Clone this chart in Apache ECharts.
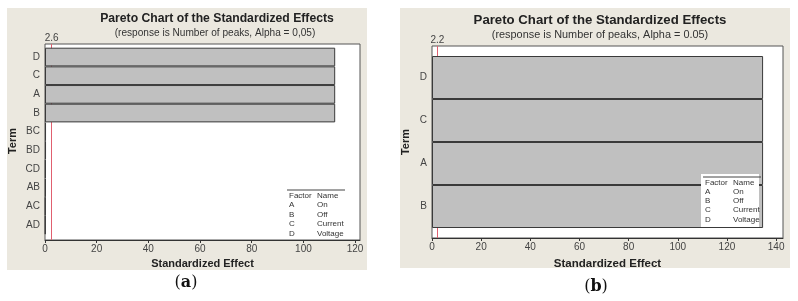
<!DOCTYPE html>
<html>
<head>
<meta charset="utf-8">
<script src="https://cdn.jsdelivr.net/npm/echarts@6/dist/echarts.min.js"></script>
<style>
  html, body { margin: 0; padding: 0; background: #fff; }
  #chart { width: 798px; height: 301px; }
</style>
</head>
<body>
<div id="chart"></div>
<script>
// panel (a): all terms
const termsA = ['D', 'C', 'A', 'B', 'BC', 'BD', 'CD', 'AB', 'AC', 'AD']
const effectsA = [112.3, 112.3, 112.3, 112.3, 0.4, 0.4, 0.3, 0.3, 0.2, 0.2]
const critA = 2.6
const xMaxA = 121.9
const subtitleA = '(response is Number of peaks, Alpha = 0,05)'

// panel (b): main effects only
const termsB = ['D', 'C', 'A', 'B']
const effectsB = [134.7, 134.7, 134.7, 134.7]
const critB = 2.2
const xMaxB = 142.8
const subtitleB = '(response is Number of peaks, Alpha = 0.05)'

const chartTitle = 'Pareto Chart of the Standardized Effects'
const factorLetters = ['A', 'B', 'C', 'D']
const factorNames = ['On', 'Off', 'Current', 'Voltage']

const SANS = '"Liberation Sans", Arial, sans-serif'
const SERIF = '"DejaVu Serif", "Liberation Serif", serif'
const BEIGE = '#ebe8df'

function factorTable(x, lineY, step, boxed) {
  const els = []
  if (boxed) {
    els.push({ type: 'rect', shape: { x: x - 4, y: lineY - 3, width: 58, height: 53 }, style: { fill: '#fff' }, z: 50 })
  }
  els.push({ type: 'line', shape: { x1: x - 2, y1: lineY, x2: x + 56, y2: lineY }, style: { stroke: '#444', lineWidth: 1 }, z: 51 })
  const rows = [['Factor', 'Name']].concat(factorLetters.map((f, i) => [f, factorNames[i]]))
  rows.forEach((r, i) => {
    const y = lineY + 5.5 + i * step
    els.push({ type: 'text', x: x, y: y, z: 52, style: { text: r[0], font: '8px ' + SANS, fill: '#333', verticalAlign: 'middle' } })
    els.push({ type: 'text', x: x + 28, y: y, z: 52, style: { text: r[1], font: '8px ' + SANS, fill: '#333', verticalAlign: 'middle' } })
  })
  return els
}

function centerText(text, x, y, font, color) {
  return { type: 'text', x: x, y: y, z: 10, style: { text: text, font: font, fill: color, align: 'center', verticalAlign: 'middle' } }
}

function outerXAxis(gridIndex, max, gap, nameSize) {
  return {
    type: 'value', gridIndex: gridIndex, min: 0, max: max, interval: 20,
    name: 'Standardized Effect', nameLocation: 'middle', nameGap: gap,
    nameTextStyle: { fontFamily: SANS, fontWeight: 'bold', fontSize: nameSize, color: '#222' },
    axisLine: { lineStyle: { color: '#333' } },
    axisTick: { length: 3, lineStyle: { color: '#333' } },
    axisLabel: { fontFamily: SANS, fontSize: 10, color: '#444', margin: 4, showMaxLabel: false },
    splitLine: { show: false },
  }
}

function innerYAxis(gridIndex, terms, gap) {
  return {
    type: 'category', gridIndex: gridIndex, data: terms, inverse: true,
    name: 'Term', nameLocation: 'middle', nameRotate: 90, nameGap: gap,
    nameTextStyle: { fontFamily: SANS, fontWeight: 'bold', fontSize: 11, color: '#222' },
    axisLine: { show: false },
    axisTick: { alignWithLabel: true, length: 3, lineStyle: { color: '#444' } },
    axisLabel: { fontFamily: SANS, fontSize: 10, color: '#444', margin: 5 },
  }
}

function refLine(xIdx, yIdx, crit) {
  return {
    type: 'line', xAxisIndex: xIdx, yAxisIndex: yIdx, data: [], z: 1, silent: true,
    markLine: {
      silent: true, symbol: 'none', z: 1,
      lineStyle: { color: '#e0606f', width: 1, type: 'solid' },
      label: { position: 'end', formatter: String(crit), fontFamily: SANS, fontSize: 10, color: '#444', distance: 1 },
      data: [{ xAxis: crit }],
    },
  }
}

function bars(xIdx, yIdx, values) {
  return {
    type: 'bar', xAxisIndex: xIdx, yAxisIndex: yIdx, data: values, z: 3, silent: true,
    barCategoryGap: '0%',
    itemStyle: { color: '#c0c0c0', borderColor: '#3a3a3a', borderWidth: 1 },
  }
}

const chart = echarts.init(document.getElementById('chart'), null, { renderer: 'canvas' })

chart.setOption({
  animation: false,
  backgroundColor: '#fff',
  grid: [
    { left: 45, top: 44, width: 315, height: 196, show: true, backgroundColor: '#fff', borderColor: '#555', borderWidth: 1 },
    { left: 45, top: 47.7, width: 315, height: 186.7 },
    { left: 432, top: 46, width: 351, height: 192, show: true, backgroundColor: '#fff', borderColor: '#555', borderWidth: 1 },
    { left: 432, top: 56, width: 351, height: 172 },
  ],
  xAxis: [
    outerXAxis(0, xMaxA, 17, 11),
    { type: 'value', gridIndex: 1, min: 0, max: xMaxA, show: false },
    outerXAxis(2, xMaxB, 20, 11.5),
    { type: 'value', gridIndex: 3, min: 0, max: xMaxB, show: false },
  ],
  yAxis: [
    { type: 'value', gridIndex: 0, min: 0, max: 1, show: false },
    innerYAxis(1, termsA, 27),
    { type: 'value', gridIndex: 2, min: 0, max: 1, show: false },
    innerYAxis(3, termsB, 21),
  ],
  series: [
    refLine(0, 0, critA),
    bars(1, 1, effectsA),
    refLine(2, 2, critB),
    bars(3, 3, effectsB),
  ],
  graphic: [
    { type: 'rect', shape: { x: 7, y: 8, width: 360, height: 262 }, style: { fill: BEIGE }, z: -10 },
    { type: 'rect', shape: { x: 400, y: 8, width: 390, height: 260 }, style: { fill: BEIGE }, z: -10 },
    centerText(chartTitle, 217, 19, 'bold 12.2px ' + SANS, '#222'),
    centerText(subtitleA, 215, 33, '10.1px ' + SANS, '#333'),
    centerText(chartTitle, 600, 20, 'bold 13.2px ' + SANS, '#222'),
    centerText(subtitleB, 600, 35, '10.9px ' + SANS, '#333'),
    {
      type: 'text', x: 186, y: 283, z: 10,
      style: { text: '({b|a})', font: '16px ' + SERIF, fill: '#111', align: 'center', verticalAlign: 'middle',
        rich: { b: { fontWeight: 'bold', fontSize: 16, fontFamily: SERIF } } },
    },
    {
      type: 'text', x: 596, y: 287, z: 10,
      style: { text: '({b|b})', font: '16px ' + SERIF, fill: '#111', align: 'center', verticalAlign: 'middle',
        rich: { b: { fontWeight: 'bold', fontSize: 16, fontFamily: SERIF } } },
    },
  ].concat(factorTable(289, 190, 9.5, false), factorTable(705, 177, 9.2, true)),
})
</script>
</body>
</html>
